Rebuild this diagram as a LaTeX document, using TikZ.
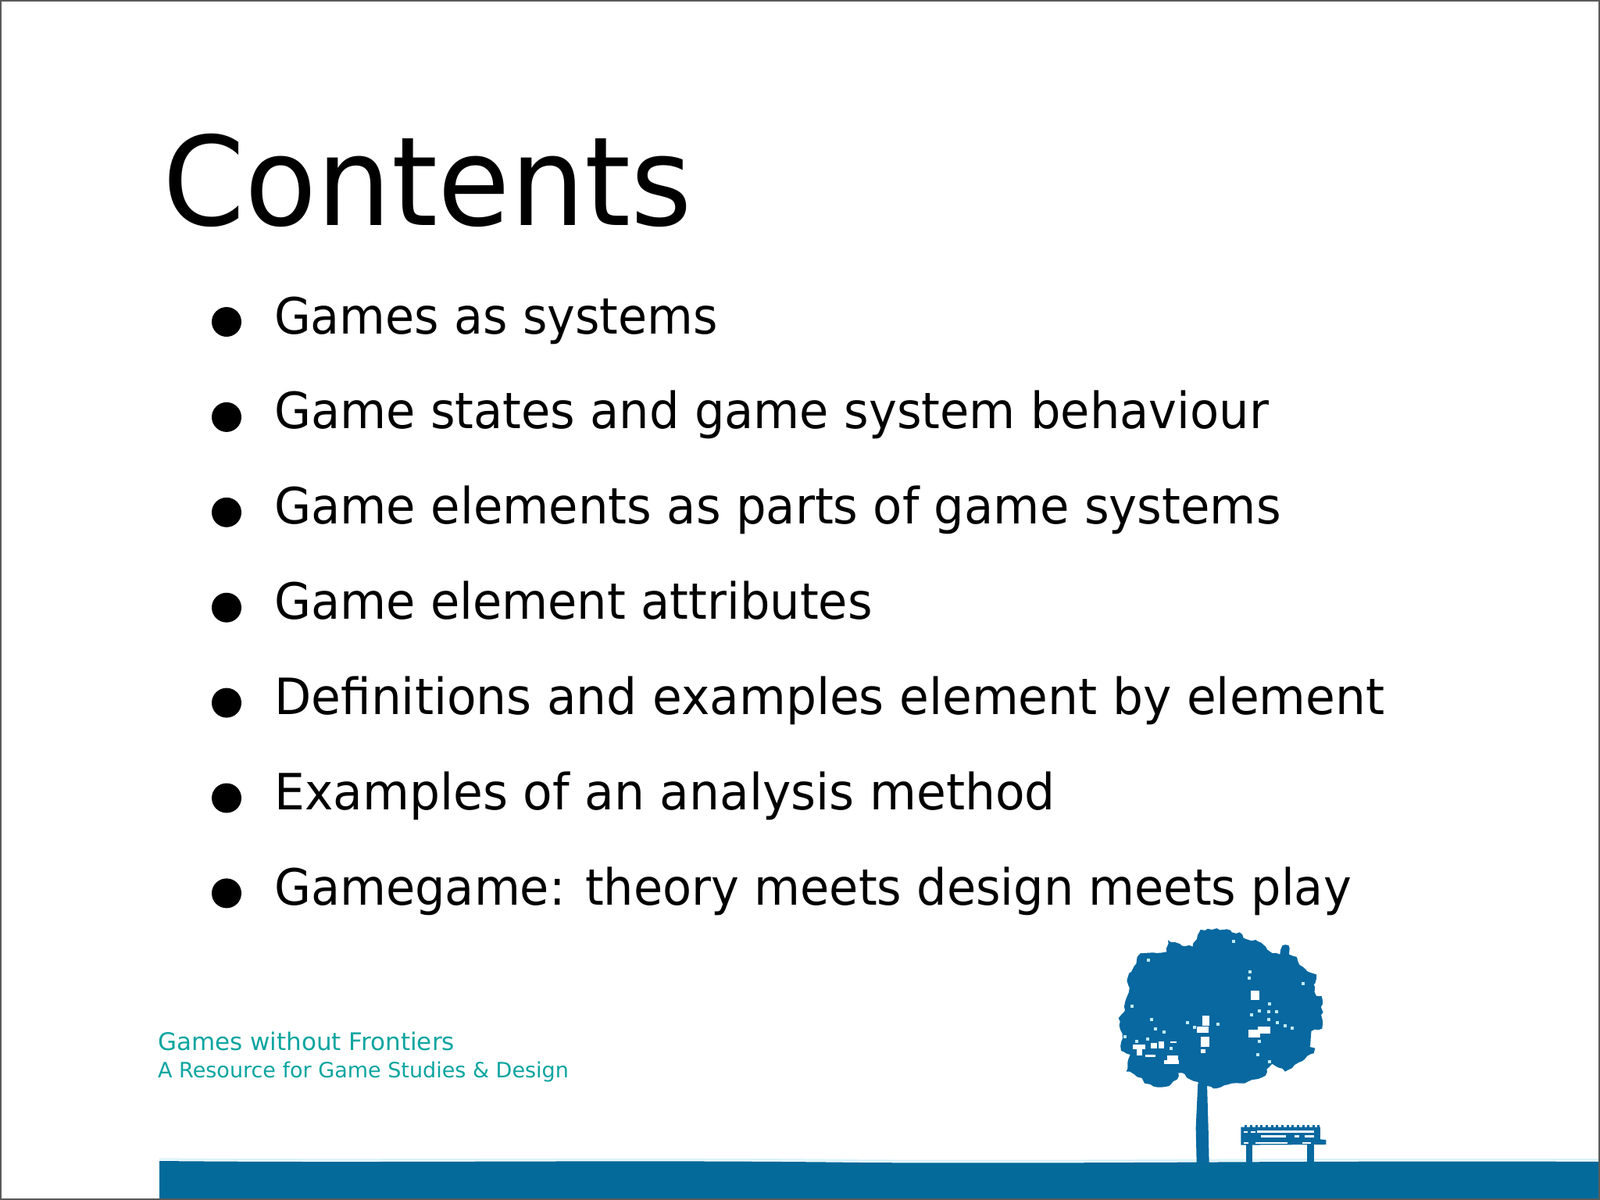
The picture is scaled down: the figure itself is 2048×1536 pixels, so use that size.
\documentclass[tikz,border=0pt]{standalone}
\usepackage{fontspec}
\usetikzlibrary{decorations.pathmorphing}
\setmainfont{DejaVu Sans}
\definecolor{bandblue}{HTML}{046A9A}
\definecolor{treeblue}{HTML}{08689F}
\definecolor{tealtext}{HTML}{0BA5A0}
\definecolor{framegray}{HTML}{5A5A5A}
\definecolor{mist}{HTML}{BFEAF5}
\newcommand{\fsz}[1]{\fontsize{#1}{#1}\selectfont}
\tikzset{
 titletext/.style={anchor=base west,inner sep=0pt,font=\fsz{158}},
 itemtext/.style={anchor=base west,inner sep=0pt,font=\fsz{64}},
 bulletdot/.style={circle,fill=black,inner sep=0pt,minimum size=38pt},
 foottext/.style={anchor=base west,inner sep=0pt,text=tealtext},
 hole/.style={fill=white,draw=none},
 tint/.style={fill=mist,draw=none},
 rough/.style={decorate,decoration={random steps,segment length=5pt,amplitude=1.6pt}},
}
\begin{document}
\begin{tikzpicture}[x=1pt,y=-1pt]
\useasboundingbox (0,0) rectangle (2048,1536);
\fill[white] (0,0) rectangle (2048,1536);
\node[titletext] (title) at (208,288) {\scalebox{.954}[1]{Contents}};
\foreach \n/\s/\t [count=\i from 0] in {
 a/.943/{Games as systems},
 b/.948/{Game states and game system behaviour},
 c/.951/{Game elements as parts of game systems},
 d/.948/{Game element attributes},
 e/.960/{Definitions and examples element by element},
 f/.961/{Examples of an analysis method},
 g/.946/{Gamegame: theory meets design meets play}}{
  \node[itemtext] (item\n) at (351,427+\i*121.9) {\scalebox{\s}[1]{\t}};
  \node[bulletdot] (dot\n) at (290,412+\i*121.9) {};
}
\node[foottext,font=\fsz{31}] (foot1) at (202,1344) {Games without Frontiers};
\node[foottext,font=\fsz{27}] (foot2) at (202,1379) {A Resource for Game Studies \& Design};
% band
\fill[bandblue] (204,1536) -- (204,1486) .. controls (500,1489) and (800,1484) .. (1100,1488) .. controls (1400,1490) and (1700,1485) .. (2048,1487) -- (2048,1536) -- cycle;
\draw[mist,line width=2.5pt,opacity=.55] (204,1483.5) .. controls (500,1486.5) and (800,1481.5) .. (1100,1485.5) .. controls (1400,1487.5) and (1700,1482.5) .. (2048,1484.5);
% tree and bench, in the coordinates of a 3x crop
\begin{scope}[shift={(1380,1160)},x=0.3333pt,y=-0.3333pt]
\fill[treeblue,rough] (470,90) -- (570,88) -- (590,100) -- (620,100) -- (635,122) -- (690,135) -- (720,155) -- (745,180) -- (775,185) -- (785,150) -- (808,150) -- (810,185) -- (840,195) -- (850,225) -- (880,250) -- (915,262) -- (905,300) -- (915,345) -- (935,345) -- (937,470) -- (895,480) -- (890,540) -- (910,545) -- (905,565) -- (880,575) -- (860,595) -- (830,610) -- (795,635) -- (770,620) -- (745,605) -- (725,625) -- (720,650) -- (680,665) -- (640,680) -- (590,680) -- (520,700) -- (495,690) -- (460,675) -- (430,665) -- (400,640) -- (385,640) -- (380,665) -- (350,690) -- (290,692) -- (255,680) -- (245,660) -- (215,645) -- (185,635) -- (190,600) -- (200,570) -- (165,555) -- (170,500) -- (155,430) -- (180,400) -- (180,370) -- (195,330) -- (190,275) -- (215,230) -- (240,180) -- (290,178) -- (340,175) -- (345,130) -- (395,150) -- (440,155) -- (465,100) -- cycle;
\fill[treeblue] (460,680) -- (495,680) -- (500,850) -- (503,985) -- (455,985) -- (452,850) -- cycle;
% canopy holes
\foreach \a/\b/\c/\d in {
 210/530/258/548, 225/548/245/572, 258/570/298/580, 280/525/302/545, 310/520/330/545, 355/518/378/525,
 330/590/388/606, 342/572/385/590,
 478/420/505/460, 455/462/500/485, 470/502/505/540, 470/548/490/565,
 662/325/696/360, 655/475/700/503, 690/462/738/490}{
  \fill[hole] (\a,\b) rectangle (\c,\d);
}
\foreach \a/\b in {
 265/200, 200/378, 275/430, 290/465, 325/478, 415/440, 440/458, 530/448,
 590/130, 655/245, 650/270, 660/410, 690/395, 730/370, 725/400, 755/400, 725/428, 760/440, 790/452, 815/462,
 685/565, 730/590, 690/512, 858/290, 175/495, 220/512, 262/505, 350/540}{
  \fill[tint] (\a,\b) rectangle +(12,12);
}
% bench
\fill[treeblue] (625,848) -- (930,848) -- (930,895) -- (952,897) -- (952,915) -- (625,917) -- cycle;
\fill[treeblue] (645,915) rectangle (670,985);
\fill[treeblue] (880,915) rectangle (905,985);
\foreach \a in {640,660,680,700,720,740,760,780,800,820,840,860,880,900,918}{
  \fill[treeblue] (\a,841) rectangle +(9,9);
}
\foreach \a/\b/\c/\d in {
 637/865/650/870, 662/865/680/870, 686/862/905/870,
 703/880/797/887, 830/880/848/887, 870/880/905/887,
 637/905/655/912, 680/905/805/912, 862/905/895/912}{
  \fill[hole] (\a,\b) rectangle (\c,\d);
}
\end{scope}
\draw[framegray,line width=1.6pt] (0.8,0.8) rectangle (2047.2,1535.2);
\end{tikzpicture}
\end{document}
